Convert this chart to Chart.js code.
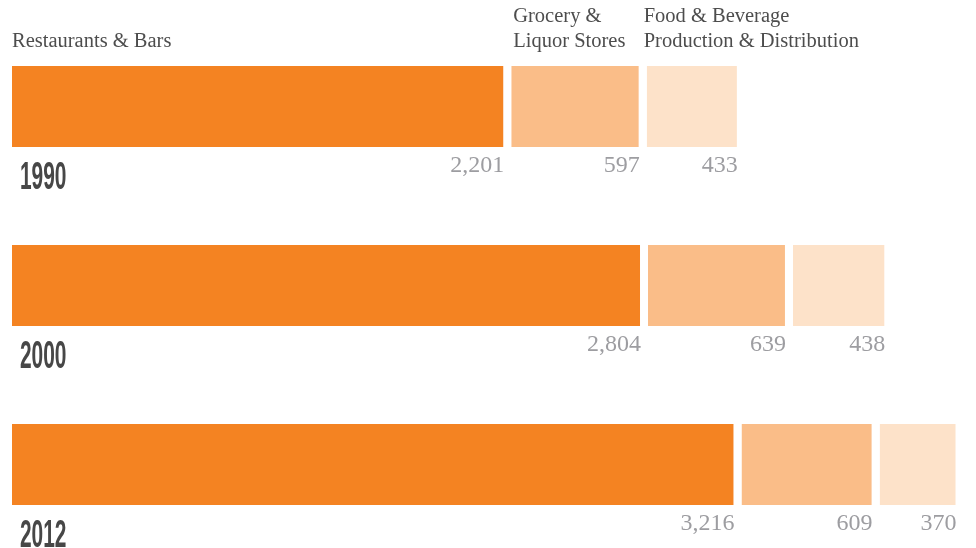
<!DOCTYPE html>
<html>
<head>
<meta charset="utf-8">
<script src="https://cdn.jsdelivr.net/npm/chart.js@4/dist/chart.umd.min.js"></script>
<style>
  html, body { margin: 0; padding: 0; background: #fff; overflow: hidden; }
  #wrap { position: relative; width: 976px; height: 554px; }
</style>
</head>
<body>
<div id="wrap"><canvas id="chart"></canvas></div>
<script>
// Chart data
const years = ['1990', '2000', '2012'];
const restaurants = [2201, 2804, 3216];
const grocery = [597, 639, 609];
const foodProduction = [433, 438, 370];
const headers = [
    ['Restaurants & Bars'],
    ['Grocery &', 'Liquor Stores'],
    ['Food & Beverage', 'Production & Distribution']
];
const colors = ['#f48322', '#fabd88', '#fde2c9'];

// Draws headers, value labels and year labels
const labelPlugin = {
    id: 'labels',
    afterDatasetsDraw(chart) {
        const ctx = chart.ctx;
        ctx.save();
        chart.data.datasets.forEach((ds, di) => {
            const meta = chart.getDatasetMeta(di);
            meta.data.forEach((bar, i) => {
                const bottom = bar.y + bar.height / 2;
                const top = bar.y - bar.height / 2;
                const right = bar.x - 8;

                // value label
                ctx.font = '24px "Liberation Serif", serif';
                ctx.fillStyle = '#9d9da1';
                ctx.textAlign = 'right';
                ctx.textBaseline = 'alphabetic';
                ctx.fillText(ds.data[i].toLocaleString('en-US'), right + 1, bottom + 25);

                // year label
                if (di === 0) {
                    ctx.save();
                    ctx.translate(20, bottom + 42);
                    ctx.scale(0.55, 1);
                    ctx.font = 'bold 38px "Liberation Sans Narrow", "Liberation Sans", sans-serif';
                    ctx.fillStyle = '#474747';
                    ctx.textAlign = 'left';
                    ctx.fillText(chart.data.labels[i], 0, 0);
                    ctx.restore();
                }

                // header above first row
                if (i === 0) {
                    const lines = headers[di];
                    ctx.font = '20.5px "Liberation Serif", serif';
                    ctx.fillStyle = '#4d4d4d';
                    ctx.textAlign = 'left';
                    const x = Math.min(bar.base, bar.x) + (di === 2 ? -3 : di === 1 ? 2 : 0);
                    lines.forEach((line, li) => {
                        ctx.fillText(line, x, top - 19 - (lines.length - 1 - li) * 25);
                    });
                }
            });
        });
        ctx.restore();
    }
};

new Chart(document.getElementById('chart'), {
    type: 'bar',
    data: {
        labels: years,
        datasets: [restaurants, grocery, foodProduction].map((d, i) => ({
            label: headers[i].join(' '),
            data: d,
            backgroundColor: colors[i],
            borderColor: '#ffffff',
            borderWidth: { top: 0, right: 8, bottom: 0, left: 0 },
            borderSkipped: false,
            barPercentage: 1,
            categoryPercentage: 0.4525
        }))
    },
    options: {
        indexAxis: 'y',
        responsive: true,
        maintainAspectRatio: false,
        animation: false,
        layout: { padding: { top: 17, left: 12, right: 0, bottom: 0 } },
        scales: {
            x: { stacked: true, display: false, min: 0, max: 4250 },
            y: { stacked: true, display: false }
        },
        plugins: {
            legend: { display: false },
            tooltip: { enabled: false }
        }
    },
    plugins: [labelPlugin]
});
</script>
</body>
</html>
